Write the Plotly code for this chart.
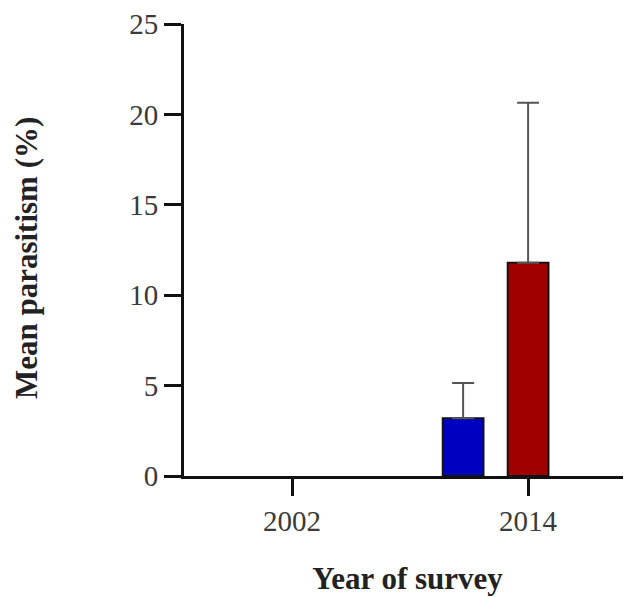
import plotly.graph_objects as go

years = ["2002", "2014"]
series_names = ["Series 1", "Series 2", "Series 3"]
means = [
    [None, 3.2],
    [None, 11.8],
    [None, None],
]
err_up = [
    [0, 1.95],
    [0, 8.85],
    [0, 0],
]
colors = ["#0000C0", "#A00000", "#808080"]

yticks = [0, 5, 10, 15, 20, 25]

fig = go.Figure()
for name, m, e, c in zip(series_names, means, err_up, colors):
    fig.add_trace(go.Bar(
        x=years, y=m, name=name,
        marker=dict(color=c, line=dict(color="#111111", width=1.8)),
        error_y=dict(type="data", array=e, arrayminus=[0] * len(e), symmetric=False,
                     color="#555555", thickness=2, width=11),
    ))

fig.update_layout(
    width=623, height=589,
    barmode="group", bargap=0.174, bargroupgap=0.37,
    showlegend=False,
    plot_bgcolor="white", paper_bgcolor="white",
    margin=dict(l=176, r=0, t=16, b=121),
    font=dict(family="Liberation Serif", color="#333333", size=29),
    annotations=[dict(
        text="<b>Mean parasitism (%)</b>", textangle=-90,
        xref="paper", yref="paper", x=-0.3535, y=0.482,
        xanchor="center", yanchor="middle", showarrow=False,
        font=dict(size=31, family="Liberation Serif", color="#222222"),
    )],
)
fig.update_xaxes(
    type="category", range=[-0.458, 1.436], automargin=False,
    showline=True, linecolor="#111111", linewidth=3,
    ticks="outside", ticklen=17, tickwidth=3, tickcolor="#111111",
    showgrid=False, zeroline=False,
    tickfont=dict(size=29, family="Liberation Serif", color="#3a3a3a"),
    title=dict(text="<b>Year of survey</b>", standoff=32,
               font=dict(size=31, family="Liberation Serif", color="#222222")),
)
fig.update_yaxes(
    range=[0, 25], tickvals=yticks, automargin=False,
    showline=True, linecolor="#111111", linewidth=3,
    ticks="outside", ticklen=17, tickwidth=3, tickcolor="#111111",
    showgrid=False, zeroline=False,
    tickfont=dict(size=29, family="Liberation Serif", color="#3a3a3a"),
)

fig.write_html("out.html")
